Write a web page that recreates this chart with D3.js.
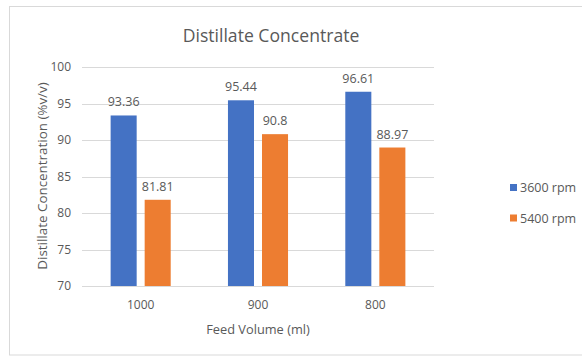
<!DOCTYPE html>
<html><head><meta charset="utf-8">
<script src="https://cdn.jsdelivr.net/npm/d3@7"></script>
<style>body{margin:0;background:#fff;} text{font-family:"Open Sans","Noto Sans",sans-serif;fill:#595959;}</style>
</head><body>
<svg id="c" width="582" height="356"></svg>
<script>
const categories = ["1000", "900", "800"];
const seriesNames = ["3600 rpm", "5400 rpm"];
const values3600 = [93.36, 95.44, 96.61];
const values5400 = [81.81, 90.8, 88.97];
const yTicks = [70, 75, 80, 85, 90, 95, 100];
const colors = ["#4472C4", "#ED7D31"];

const svg = d3.select("#c");
// chart border
svg.append("rect").attr("x", 9.5).attr("y", 6.5).attr("width", 600).attr("height", 348.5)
  .attr("fill", "none").attr("stroke", "#d9d9d9");

const y = d3.scaleLinear().domain([70, 100]).range([286, 67]);
const x0 = d3.scaleBand().domain(categories).range([82, 434]);
const bw = x0.bandwidth();
const x1 = d3.scaleBand().domain(seriesNames).range([bw * 0.244, bw * 0.756]).paddingInner(0.235);

// gridlines
svg.append("g").selectAll("line").data(yTicks).join("line")
  .attr("x1", 82).attr("x2", 434)
  .attr("y1", d => Math.round(y(d)) + 0.5).attr("y2", d => Math.round(y(d)) + 0.5)
  .attr("stroke", "#d9d9d9").attr("stroke-width", 1);

// y axis labels
const yAxis = d3.axisLeft(y).tickValues(yTicks).tickSize(0).tickPadding(11);
const ya = svg.append("g").attr("transform", "translate(82,0)").call(yAxis);
ya.select(".domain").remove();
ya.selectAll("text").attr("font-size", 12).style("fill", "#595959").style("font-family", "'Open Sans',sans-serif");

// x axis labels
const xAxis = d3.axisBottom(x0).tickSize(0).tickPadding(14);
const xa = svg.append("g").attr("transform", "translate(0,286)").call(xAxis);
xa.select(".domain").remove();
xa.selectAll("text").attr("font-size", 12).style("fill", "#595959").style("font-family", "'Open Sans',sans-serif");

const data = categories.map((c, i) => ({cat: c, vals: [
  {s: seriesNames[0], v: values3600[i]}, {s: seriesNames[1], v: values5400[i]}]}));

const g = svg.append("g").selectAll("g").data(data).join("g")
  .attr("transform", d => `translate(${x0(d.cat)},0)`);
g.selectAll("rect").data(d => d.vals).join("rect")
  .attr("x", d => x1(d.s)).attr("width", x1.bandwidth())
  .attr("y", d => y(d.v)).attr("height", d => y(70) - y(d.v))
  .attr("fill", (d, i) => colors[i]);
g.selectAll("text").data(d => d.vals).join("text")
  .attr("x", d => x1(d.s) + x1.bandwidth() / 2).attr("y", d => y(d.v) - 9)
  .attr("text-anchor", "middle").attr("font-size", 12.5).text(d => String(d.v));

// title
svg.append("text").attr("x", 271).attr("y", 42).attr("text-anchor", "middle")
  .attr("font-size", 17.6).text("Distillate Concentrate");
// axis titles
svg.append("text").attr("x", 258).attr("y", 334).attr("text-anchor", "middle")
  .attr("font-size", 12.8).text("Feed Volume (ml)");
svg.append("text").attr("transform", "translate(47,176) rotate(-90)").attr("text-anchor", "middle")
  .attr("font-size", 13.4).text("Distillate Concentration (%v/v)");

// legend
const lg = svg.append("g").selectAll("g").data(seriesNames).join("g")
  .attr("transform", (d, i) => `translate(510,${187.5 + i * 30.5})`);
lg.append("rect").attr("x", 0).attr("y", -3.5).attr("width", 7).attr("height", 7)
  .attr("fill", (d, i) => colors[i]);
lg.append("text").attr("x", 10).attr("y", 4.5).attr("font-size", 12.5).text(d => d);
</script>
</body></html>
